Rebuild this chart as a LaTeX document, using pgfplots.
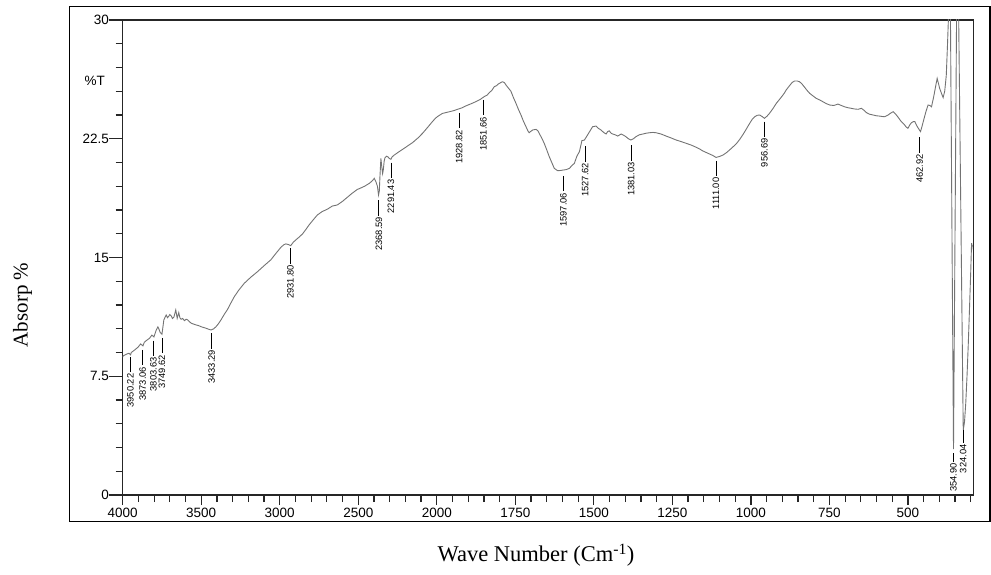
\documentclass[border=0pt]{standalone}
\usepackage{pgfplots}
\pgfplotsset{compat=1.18}
\usepackage{fontspec}
\setmainfont{Liberation Serif}
\newfontfamily\arial{Liberation Sans}

% spectrum: wave number (cm^-1), value
\pgfplotstableread{
wn y
4000 8.70
3998 8.78
3975 8.90
3960 8.95
3950 8.85
3945 9.00
3925 9.15
3903 9.33
3886 9.54
3871 9.42
3862 9.65
3850 9.75
3829 9.90
3814 10.10
3801 9.98
3787 10.40
3776 10.62
3768 10.45
3761 10.26
3750 10.15
3744 10.60
3738 11.06
3723 11.37
3715 11.20
3708 11.27
3700 11.40
3691 11.31
3683 11.15
3674 11.23
3662 11.69
3653 11.16
3643 11.52
3636 11.20
3628 11.10
3618 11.15
3607 11.01
3596 11.10
3586 11.06
3575 10.95
3564 10.85
3550 10.80
3533 10.74
3517 10.70
3501 10.63
3485 10.58
3469 10.53
3450 10.46
3437 10.42
3420 10.50
3406 10.63
3390 10.82
3374 11.06
3355 11.38
3332 11.73
3310 12.15
3289 12.53
3260 12.95
3226 13.37
3185 13.75
3141 14.11
3100 14.48
3057 14.85
3025 15.25
2993 15.64
2975 15.80
2961 15.86
2945 15.82
2930 15.75
2915 15.95
2898 16.11
2875 16.30
2855 16.49
2835 16.75
2813 17.06
2785 17.40
2760 17.69
2730 17.90
2697 18.05
2665 18.25
2633 18.32
2600 18.55
2570 18.80
2540 19.05
2506 19.30
2493 19.35
2460 19.50
2430 19.68
2410 19.85
2398 20.00
2388 19.79
2378 19.50
2371 18.95
2366 19.20
2362 20.10
2356 21.26
2350 20.70
2345 20.30
2341 20.50
2335 21.10
2330 21.30
2320 21.40
2310 21.35
2303 21.26
2292 21.20
2285 21.35
2271 21.47
2245 21.65
2218 21.83
2185 22.05
2155 22.25
2120 22.55
2091 22.84
2060 23.20
2028 23.58
2010 23.78
1998 23.90
1982 24.10
1961 24.20
1945 24.28
1934 24.36
1920 24.45
1908 24.57
1892 24.70
1876 24.84
1862 24.98
1849 25.16
1840 25.25
1833 25.41
1825 25.55
1817 25.79
1810 25.85
1804 25.96
1796 26.05
1791 26.10
1785 26.05
1780 25.90
1772 25.70
1764 25.50
1756 25.10
1748 24.74
1740 24.35
1732 24.00
1724 23.60
1716 23.26
1710 23.00
1706 22.88
1700 22.98
1694 23.06
1684 23.09
1678 23.00
1674 22.84
1666 22.55
1658 22.21
1650 21.80
1642 21.37
1634 21.00
1626 20.63
1615 20.48
1605 20.50
1599 20.52
1588 20.55
1578 20.63
1570 20.80
1562 20.95
1554 21.40
1546 21.68
1538 22.38
1530 22.42
1520 22.74
1512 23.00
1504 23.26
1493 23.30
1485 23.15
1477 23.05
1469 22.90
1461 22.80
1456 22.95
1451 23.00
1445 22.85
1440 22.80
1432 22.75
1424 22.67
1413 22.80
1405 22.72
1398 22.63
1390 22.50
1382 22.42
1374 22.50
1366 22.63
1355 22.75
1344 22.80
1333 22.85
1323 22.88
1312 22.90
1302 22.88
1286 22.80
1270 22.67
1254 22.55
1238 22.42
1222 22.32
1206 22.21
1190 22.10
1174 21.96
1163 21.85
1153 21.73
1142 21.63
1132 21.54
1122 21.45
1111 21.32
1100 21.38
1089 21.47
1078 21.62
1068 21.79
1058 21.97
1047 22.17
1036 22.45
1026 22.74
1015 23.10
1004 23.47
996 23.72
988 23.89
980 23.98
972 24.00
964 23.90
957 23.79
949 23.92
941 24.10
930 24.40
919 24.74
909 24.98
898 25.26
893 25.40
887 25.60
877 25.85
869 26.05
861 26.15
853 26.15
845 26.10
837 25.95
829 25.75
821 25.55
813 25.37
802 25.20
792 25.05
781 24.95
771 24.84
760 24.72
749 24.63
736 24.60
723 24.69
712 24.60
702 24.52
691 24.46
680 24.42
670 24.38
659 24.36
648 24.42
640 24.30
632 24.15
622 24.05
611 24.00
600 23.95
590 23.93
580 23.90
574 23.89
568 23.95
563 24.00
555 24.12
547 24.21
539 24.05
531 23.85
522 23.60
513 23.43
506 23.25
500 23.16
495 23.35
489 23.51
483 23.58
478 23.58
474 23.40
470 23.26
465 23.10
460 22.95
455 23.30
450 23.68
443 24.20
436 24.63
430 24.60
425 24.52
418 25.16
412 25.80
407 26.31
403 26.00
399 25.68
393 25.35
388 25.10
383 25.50
378 26.50
374 28.50
371 30.20
368 31.50
365 31.00
355 2.90
345 31.00
342 31.50
339 31.00
324 4.10
320 4.60
316 5.80
312 7.50
308 9.50
304 11.80
300 14.20
297.5 15.90
296.5 15.60
295 15.80
}\spectrum

\begin{document}
\begin{tikzpicture}[
  peak/.style={anchor=east, rotate=90, inner sep=1pt, font=\arial\fontsize{9.3}{9.3}\selectfont},
]
\useasboundingbox (0pt,0pt) rectangle (991pt,574pt);
\draw[line width=1.3pt, black] (69.5pt,52.3pt) rectangle (990pt,567.3pt);
\begin{axis}[
  at={(122.7pt,79pt)}, anchor=south west,
  scale only axis, width=850.6pt, height=475pt,
  x dir=reverse,
  x coord trafo/.code={\pgfmathparse{ifthenelse(#1>=2000,#1,2*#1-2000)}},
  x coord inv trafo/.code={\pgfmathparse{ifthenelse(#1>=2000,#1,(#1+2000)/2)}},
  xmin=292, xmax=4000, ymin=0, ymax=30,
  axis line style={black!85, line width=1.2pt},
  tick align=outside, tick pos=left,
  major tick length=10pt, minor tick length=7pt,
  tick style={black!85, line width=1.2pt},
  xtick={4000,3500,3000,2500,2000,1750,1500,1250,1000,750,500},
  xticklabels={4000,3500,3000,2500,2000,1750,1500,1250,1000,750,500},
  minor xtick={3900,3800,3700,3600,3400,3300,3200,3100,2900,2800,2700,2600,2400,2300,2200,2100,
    1950,1900,1850,1800,1700,1650,1600,1550,1450,1400,1350,1300,1200,1150,1100,1050,
    950,900,850,800,700,650,600,550,450,400,350,300},
  ytick={0,7.5,15,22.5,30},
  yticklabels={0,7.5,15,22.5,30},
  minor y tick num=4,
  ytick style={/pgfplots/major tick length=14pt},
  ticklabel style={font=\arial\fontsize{13.5}{14}\selectfont, inner sep=0pt},
  xticklabel shift=3pt,
  yticklabel shift=3.7pt,
]
\addplot[black!55, line width=0.9pt] table[x=wn, y=y] {\spectrum};

\draw[line width=1pt] (axis cs:3950.22,8.73) -- ++(0pt,-15.5pt) node[peak] {3950.22};
\draw[line width=1pt] (axis cs:3873.06,9.16) -- ++(0pt,-15.5pt) node[peak] {3873.06};
\draw[line width=1pt] (axis cs:3803.63,9.75) -- ++(0pt,-15.5pt) node[peak] {3803.63};
\draw[line width=1pt] (axis cs:3749.62,9.92) -- ++(0pt,-15.5pt) node[peak] {3749.62};
\draw[line width=1pt] (axis cs:3433.29,10.23) -- ++(0pt,-15.5pt) node[peak] {3433.29};
\draw[line width=1pt] (axis cs:2931.80,15.6) -- ++(0pt,-15.5pt) node[peak] {2931.80};
\draw[line width=1pt] (axis cs:2368.59,18.63) -- ++(0pt,-15.5pt) node[peak] {2368.59};
\draw[line width=1pt] (axis cs:2291.43,20.99) -- ++(0pt,-15.5pt) node[peak] {2291.43};
\draw[line width=1pt] (axis cs:1928.82,24.13) -- ++(0pt,-15.5pt) node[peak] {1928.82};
\draw[line width=1pt] (axis cs:1851.66,24.95) -- ++(0pt,-15.5pt) node[peak] {1851.66};
\draw[line width=1pt] (axis cs:1597.06,20.15) -- ++(0pt,-15.5pt) node[peak] {1597.06};
\draw[line width=1pt] (axis cs:1527.62,22.04) -- ++(0pt,-15.5pt) node[peak] {1527.62};
\draw[line width=1pt] (axis cs:1381.03,22.1) -- ++(0pt,-15.5pt) node[peak] {1381.03};
\draw[line width=1pt] (axis cs:1111.00,21.11) -- ++(0pt,-15.5pt) node[peak] {1111.00};
\draw[line width=1pt] (axis cs:956.69,23.58) -- ++(0pt,-15.5pt) node[peak] {956.69};
\draw[line width=1pt] (axis cs:462.92,22.6) -- ++(0pt,-15.5pt) node[peak] {462.92};
\draw[line width=1pt] (axis cs:354.90,2.65) -- ++(0pt,-9pt) node[peak] {354.90};
\draw[line width=1pt] (axis cs:324.04,4.1) -- ++(0pt,-13pt) node[peak] {324.04};
\end{axis}
\node[anchor=east, font=\arial\fontsize{13.5}{14}\selectfont, inner sep=0pt] at (105pt,493pt) {\%T};
\node[rotate=90, font=\fontsize{21}{24}\selectfont, inner sep=0pt] at (22.5pt,269pt) {Absorp \%};
\node[font=\fontsize{22.5}{26}\selectfont, inner sep=0pt] at (536pt,19pt) {Wave Number (Cm\textsuperscript{-1})};
\end{tikzpicture}
\end{document}
